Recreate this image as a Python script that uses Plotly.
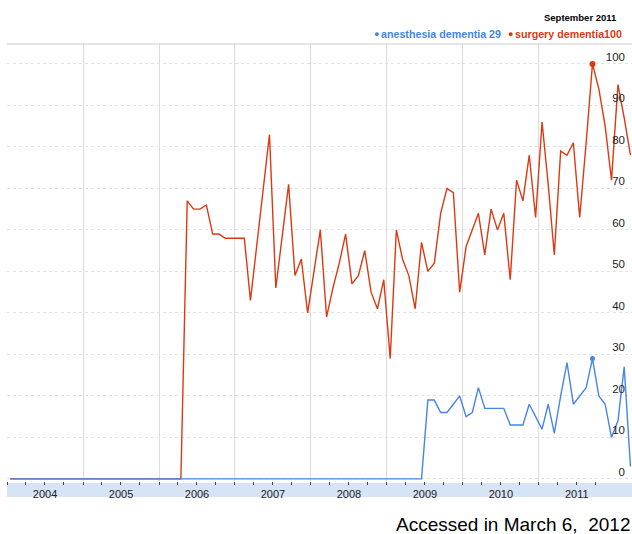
import plotly.graph_objects as go
import pandas as pd

# ---------------- data ----------------
months = pd.date_range("2004-01-01", "2012-03-01", freq="MS")

surgery_dementia = [
    0, 0, 0, 0, 0, 0, 0, 0, 0, 0, 0, 0,            # 2004
    0, 0, 0, 0, 0, 0, 0, 0, 0, 0, 0, 0,            # 2005
    0, 0, 0, 0, 67, 65, 65, 66, 59, 59, 58, 58,    # 2006
    58, 58, 43, 56, 70, 83, 46, 59, 71, 49, 53, 40,  # 2007
    50, 60, 39, 46, 52, 59, 47, 49, 55, 45, 41, 48,  # 2008
    29, 60, 53, 49, 41, 57, 50, 52, 64, 70, 69, 45,  # 2009
    56, 60, 64, 54, 65, 60, 64, 48, 72, 67, 78, 63,  # 2010
    86, 71, 54, 79, 78, 81, 63, 81, 100, 94, 85, 72,  # 2011
    95, 87, 78,                                     # 2012
]

anesthesia_dementia = [
    0, 0, 0, 0, 0, 0, 0, 0, 0, 0, 0, 0,            # 2004
    0, 0, 0, 0, 0, 0, 0, 0, 0, 0, 0, 0,            # 2005
    0, 0, 0, 0, 0, 0, 0, 0, 0, 0, 0, 0,            # 2006
    0, 0, 0, 0, 0, 0, 0, 0, 0, 0, 0, 0,            # 2007
    0, 0, 0, 0, 0, 0, 0, 0, 0, 0, 0, 0,            # 2008
    0, 0, 0, 0, 0, 0, 19, 19, 16, 16, 18, 20,      # 2009
    15, 16, 22, 17, 17, 17, 17, 13, 13, 13, 18, 15,  # 2010
    12, 18, 11, 20, 28, 18, 20, 22, 29, 20, 18, 10,  # 2011
    14, 27, 3,                                      # 2012
]

highlight_month = "2011-09-01"
highlight_label = "September 2011"
series_names = ["anesthesia dementia", "surgery dementia"]
y_tick_values = [0, 10, 20, 30, 40, 50, 60, 70, 80, 90, 100]
footer_text = "Accessed in March 6,\u00a0 2012"

BLUE = "#4684ee"
RED = "#dc3912"

# ---------------- figure ----------------
W, H = 632, 534
ML, MR, MT, MB = 7, 0, 44, 53
PW = W - ML - MR
PH = H - MT - MB


def px_x(px):
    return (px - ML) / PW


def px_y(py):
    return (H - MB - py) / PH


hi = list(months.strftime("%Y-%m-%d")).index(highlight_month)

fig = go.Figure()

fig.add_trace(go.Scatter(
    x=months, y=surgery_dementia, mode="lines",
    xperiod="M1", xperiodalignment="middle",
    line=dict(color=RED, width=1.4), hoverinfo="skip", showlegend=False,
))
fig.add_trace(go.Scatter(
    x=months, y=anesthesia_dementia, mode="lines",
    xperiod="M1", xperiodalignment="middle",
    line=dict(color=BLUE, width=1.4), hoverinfo="skip", showlegend=False,
))
fig.add_trace(go.Scatter(
    x=[months[hi]], y=[surgery_dementia[hi]], mode="markers",
    xperiod="M1", xperiodalignment="middle",
    marker=dict(color=RED, size=6), hoverinfo="skip", showlegend=False,
))
fig.add_trace(go.Scatter(
    x=[months[hi]], y=[anesthesia_dementia[hi]], mode="markers",
    xperiod="M1", xperiodalignment="middle",
    marker=dict(color=BLUE, size=5), hoverinfo="skip", showlegend=False,
))

fig.update_layout(
    width=W, height=H,
    margin=dict(l=ML, r=MR, t=MT, b=MB, pad=0),
    paper_bgcolor="white", plot_bgcolor="white",
    font=dict(family="Arial, Liberation Sans, sans-serif", color="#222"),
    xaxis=dict(
        type="date",
        range=["2004-01-01", "2012-03-24"],
        tick0="2004-01-01", dtick="M12",
        ticklabelmode="period", tickformat="%Y",
        ticks="outside", ticklen=3, tickwidth=1, tickcolor="#444",
        tickfont=dict(size=11, color="#222"),
        showgrid=True, gridcolor="#dddddd", gridwidth=1,
        zeroline=False, showline=False,
        minor=dict(dtick="M3", tick0="2004-01-01", ticks="outside", ticklen=3,
                   tickwidth=1, tickcolor="#444", showgrid=False),
        fixedrange=True,
    ),
    yaxis=dict(
        range=[-0.5, 104.8],
        side="right",
        tickvals=y_tick_values,
        ticktext=[str(v) for v in y_tick_values],
        ticklabelposition="inside",
        ticklabelshift=-7,
        ticklabelstandoff=4,
        ticks="",
        tickfont=dict(size=11.5, color="#222"),
        showgrid=True, gridcolor="#e2e2e2", griddash="dot", gridwidth=1,
        zeroline=False, showline=False,
        fixedrange=True,
    ),
    shapes=[
        dict(type="rect", xref="paper", yref="paper",
             x0=0, x1=1, y0=px_y(497), y1=px_y(483),
             fillcolor="#d6e4f6", line=dict(width=0), layer="below"),
        dict(type="line", xref="paper", yref="paper",
             x0=0, x1=1, y0=1, y1=1,
             line=dict(color="#cccccc", width=1)),
    ],
    annotations=[
        dict(text="<b>%s</b>" % highlight_label, xref="paper", yref="paper",
             x=px_x(619), y=px_y(17), xanchor="right", yanchor="middle",
             showarrow=False, font=dict(size=9.5, color="#000")),
        dict(text="●", xref="paper", yref="paper",
             x=px_x(376), y=px_y(34), xanchor="center", yanchor="middle",
             showarrow=False, font=dict(size=9, color=BLUE)),
        dict(text="<b>%s %d</b>" % (series_names[0], anesthesia_dementia[hi]),
             xref="paper", yref="paper",
             x=px_x(503), y=px_y(34), xanchor="right", yanchor="middle",
             showarrow=False, font=dict(size=10.7, color=BLUE)),
        dict(text="●", xref="paper", yref="paper",
             x=px_x(510), y=px_y(34), xanchor="center", yanchor="middle",
             showarrow=False, font=dict(size=9, color=RED)),
        dict(text="<b>%s%d</b>" % (series_names[1], surgery_dementia[hi]),
             xref="paper", yref="paper",
             x=px_x(624), y=px_y(34), xanchor="right", yanchor="middle",
             showarrow=False, font=dict(size=10.7, color=RED)),
        dict(text=footer_text, xref="paper", yref="paper",
             x=1, y=px_y(524), xanchor="right", yanchor="middle",
             showarrow=False, font=dict(size=19, color="#000")),
    ],
)

fig.write_html(
    "out.html",
    config={"displayModeBar": False},
    post_script="document.body.style.margin='0';document.body.style.overflow='hidden';",
)
